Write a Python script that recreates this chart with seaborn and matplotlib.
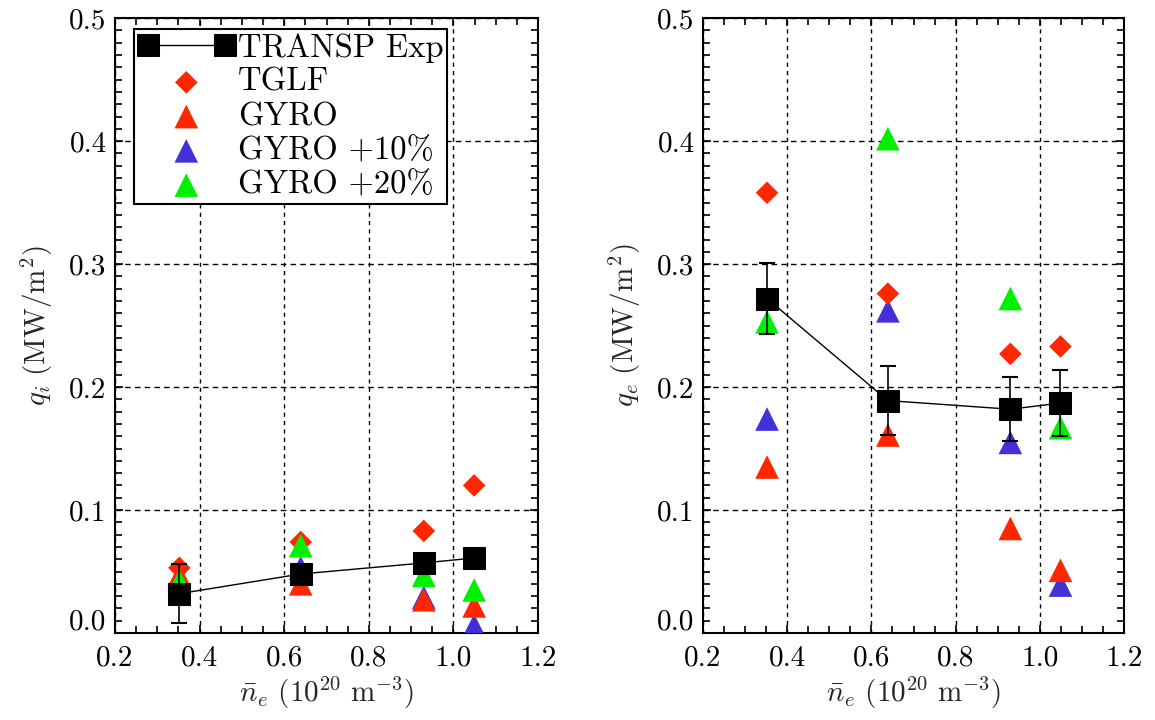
import matplotlib
matplotlib.use("Agg")
import matplotlib.pyplot as plt
import matplotlib.transforms as mtransforms
import numpy as np
import pandas as pd
import seaborn as sns
from matplotlib.ticker import MultipleLocator

# Line-averaged density (10^20 m^-3)
density = [0.352, 0.639, 0.930, 1.049]

# Ion heat flux q_i (MW/m^2)
qi_transp = [0.032, 0.048, 0.057, 0.061]
qi_transp_err = [0.024, 0.006, 0.006, 0.006]
qi_tglf = [0.053, 0.074, 0.083, 0.120]
qi_gyro = [0.047, 0.040, 0.027, 0.022]
qi_gyro10 = [0.044, 0.053, 0.029, 0.006]
qi_gyro20 = [0.042, 0.071, 0.047, 0.035]

# Electron heat flux q_e (MW/m^2)
qe_transp = [0.272, 0.189, 0.182, 0.187]
qe_transp_err = [0.029, 0.028, 0.026, 0.027]
qe_tglf = [0.358, 0.276, 0.227, 0.233]
qe_gyro = [0.135, 0.161, 0.085, 0.051]
qe_gyro10 = [0.174, 0.262, 0.155, 0.039]
qe_gyro20 = [0.253, 0.402, 0.272, 0.167]

x_ticks = [0.2, 0.4, 0.6, 0.8, 1.0, 1.2]
y_ticks = [0.0, 0.1, 0.2, 0.3, 0.4, 0.5]

RED = "#ff2600"
BLUE = "#4330d8"
GREEN = "#00f000"

sns.set_theme(style="ticks")
plt.rcParams.update({
    "font.family": "serif",
    "font.serif": ["cmr10", "DejaVu Serif"],
    "mathtext.fontset": "cm",
    "axes.formatter.use_mathtext": True,
    "axes.unicode_minus": False,
    "axes.linewidth": 1.5,
    "axes.edgecolor": "black",
    "text.color": "black",
    "xtick.color": "black",
    "ytick.color": "black",
})

fig = plt.figure(figsize=(11.55, 7.2), dpi=100)
ax_i = fig.add_axes([0.0996, 0.1208, 0.3662, 0.854])
ax_e = fig.add_axes([0.6087, 0.1208, 0.3645, 0.854])

TRI = 17.0 ** 2
DIA = 11.5 ** 2


def draw_panel(ax, transp, err, tglf, gyro, g10, g20, ylabel, legend):
    sns.scatterplot(x=density, y=g10, marker="^", s=TRI, color=BLUE,
                    edgecolor="none", ax=ax, label="GYRO +10%", zorder=3)
    sns.scatterplot(x=density, y=gyro, marker="^", s=TRI, color=RED,
                    edgecolor="none", ax=ax, label="GYRO", zorder=3)
    sns.scatterplot(x=density, y=tglf, marker="D", s=DIA, color=RED,
                    edgecolor="none", ax=ax, label="TGLF", zorder=3)
    sns.scatterplot(x=density, y=g20, marker="^", s=TRI, color=GREEN,
                    edgecolor="none", ax=ax, label="GYRO +20%", zorder=3)
    sns.lineplot(x=density, y=transp, color="black", linewidth=1.0,
                 marker="s", markersize=15.5, markeredgecolor="black",
                 markerfacecolor="black", ax=ax, label="TRANSP Exp",
                 zorder=5, sort=False)
    ax.errorbar(density, transp, yerr=err, fmt="none", ecolor="black",
                elinewidth=1.2, capsize=6, capthick=1.5, zorder=6)

    ax.set_xlim(0.2, 1.2)
    ax.set_ylim(0.0, 0.5)
    ax.set_xticks(x_ticks)
    ax.set_yticks(y_ticks)
    ax.set_xticklabels([f"{v:.1f}" for v in x_ticks])
    ax.set_yticklabels([f"{v:.1f}" for v in y_ticks])
    ax.xaxis.set_minor_locator(MultipleLocator(0.05))
    ax.yaxis.set_minor_locator(MultipleLocator(0.01))
    ax.tick_params(which="both", direction="in", top=True, right=True,
                   width=1.2, labelsize=21)
    ax.tick_params(axis="y", pad=6)
    ax.tick_params(axis="x", pad=9)
    ax.tick_params(which="major", length=6)
    ax.tick_params(which="minor", length=5)

    # lift the bottom y label clear of the x-axis labels
    lift = mtransforms.ScaledTranslation(0, 14 / 100, fig.dpi_scale_trans)
    bottom = ax.get_yticklabels()[0]
    bottom.set_transform(bottom.get_transform() + lift)

    ax.xaxis.grid(True, which="major", linestyle=(0, (3, 3)),
                  color="black", linewidth=1.0)
    ax.yaxis.grid(True, which="major", linestyle=(0, (4, 3)),
                  color="black", linewidth=1.0)
    ax.set_axisbelow(True)

    ax.set_xlabel(r"$\bar{n}_e\ (10^{20}\ \mathrm{m}^{-3})$", fontsize=21,
                  labelpad=2)
    ax.set_ylabel(ylabel, fontsize=21, labelpad=10)

    handles, labels = ax.get_legend_handles_labels()
    order = ["TRANSP Exp", "TGLF", "GYRO", "GYRO +10%", "GYRO +20%"]
    lookup = dict(zip(labels, handles))
    if legend:
        leg = ax.legend([lookup[k] for k in order], order, loc="upper left",
                        bbox_to_anchor=(0.045, 0.982), fontsize=23.5,
                        numpoints=2, scatterpoints=1, handlelength=2.96,
                        handletextpad=0.1, labelspacing=0.16,
                        borderpad=0.12, borderaxespad=0.0, frameon=True,
                        fancybox=False, framealpha=1.0, edgecolor="black")
        leg.get_frame().set_linewidth(1.5)
        leg.set_zorder(10)
    else:
        ax.get_legend().remove()


draw_panel(ax_i, qi_transp, qi_transp_err, qi_tglf, qi_gyro, qi_gyro10,
           qi_gyro20, r"$q_i\ (\mathrm{MW/m}^2)$", True)
draw_panel(ax_e, qe_transp, qe_transp_err, qe_tglf, qe_gyro, qe_gyro10,
           qe_gyro20, r"$q_e\ (\mathrm{MW/m}^2)$", False)

fig.savefig("out.png", dpi=100)
